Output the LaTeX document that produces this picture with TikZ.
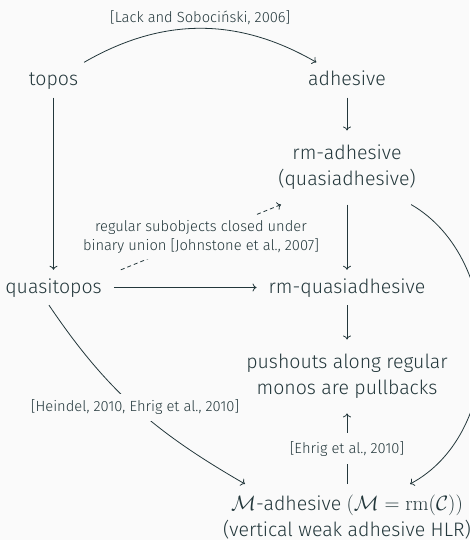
\documentclass[tikz,border=0pt]{standalone}
\usepackage[no-math]{fontspec}
\setmainfont{Fira Sans Light}
\usetikzlibrary{arrows.meta}
\definecolor{ink}{HTML}{23373B}
\definecolor{paper}{HTML}{FAFAFA}
\begin{document}
\begin{tikzpicture}[x=1pt,y=1pt,
  every node/.style={text=ink},
  cell/.style={font=\fontsize{19.5}{26}\selectfont, inner xsep=12pt, inner ysep=0pt,
    text height=23pt, text depth=12pt, anchor=base},
  block/.style={font=\fontsize{19.5}{26}\selectfont, align=center, inner xsep=12pt,
    inner ysep=14.5pt, anchor=north},
  cite/.style={font=\fontsize{14.7}{18.5}\selectfont, fill=paper, inner sep=6pt},
  arr/.style={draw=ink, line width=0.8pt, -{To[length=4pt,width=8pt]}},
]
\fill[paper] (0,0) rectangle (469,-540);
\useasboundingbox (0,0) rectangle (469,-540);

% objects
\node[cell] (topos)  at (53.5,-85.5) {topos};
\node[cell] (adh)    at (347,-85.5)  {adhesive};
\node[block] (rmadh) at (347,-130.5) {rm-adhesive\\(quasiadhesive)};
\node[cell] (qtopos) at (53.5,-293)  {quasitopos};
\node[cell] (rmq)    at (347,-293)   {rm-quasiadhesive};
\node[block] (push)  at (347,-339.5) {pushouts along regular\\monos are pullbacks};
\node[block, inner ysep=11.2pt] (madh) at (347,-484)
  {$\mathcal{M}$-adhesive $(\mathcal{M} = \mathrm{rm}(\mathcal{C}))$\\(vertical weak adhesive HLR)};

% implications
\draw[arr] (topos) to[bend left=30]
  node[midway, above, cite, fill=none, inner sep=3pt] {[Lack and Sobociński, 2006]} (adh);
\draw[arr] (adh) -- (rmadh);
\draw[arr] (topos) -- (qtopos);
\draw[arr] (rmadh) -- (rmq);
\draw[arr] (qtopos) -- (rmq);
\draw[arr] (rmq) -- (push);
\draw[arr] (madh) -- node[cite, inner ysep=8pt] {[Ehrig et al., 2010]} (push);
\draw[arr, dash pattern=on 4pt off 3pt] ([xshift=7pt]qtopos.north east) --
  node[cite, align=center] {regular subobjects closed under\\binary union [Johnstone et al., 2007]}
  ([xshift=15pt]rmadh.south west);
\draw[arr] ([xshift=-4.5pt]qtopos.south) to[out=-56, in=150]
  node[cite] {[Heindel, 2010, Ehrig et al., 2010]} ([xshift=-102pt]madh.north);
\draw[arr] (rmadh) to[out=-30, in=28] (madh);
\end{tikzpicture}
\end{document}
